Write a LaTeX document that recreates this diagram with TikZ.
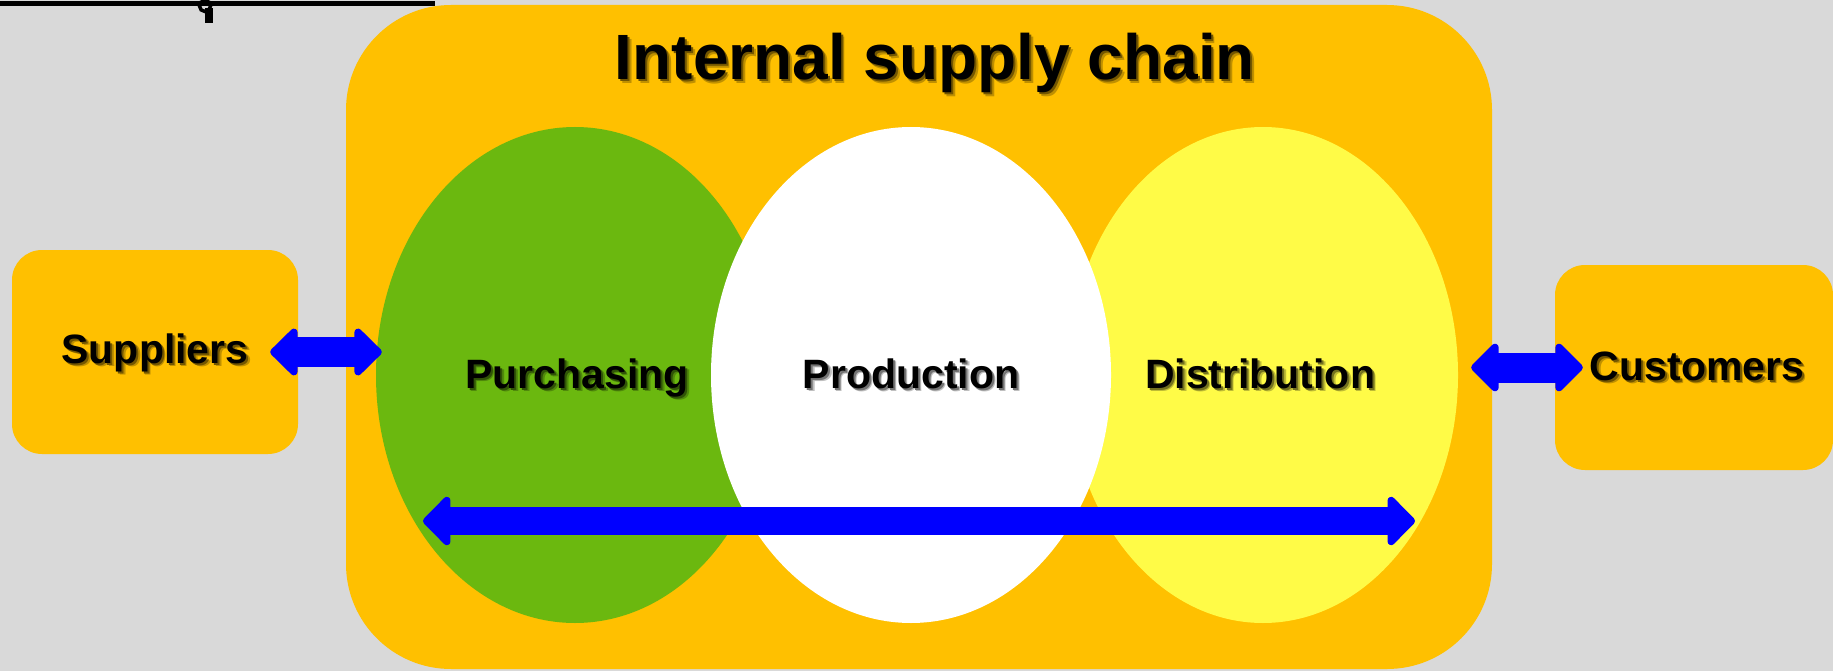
\documentclass[tikz,border=0pt]{standalone}
\usepackage{fontspec}
\setmainfont{Liberation Sans}
\usetikzlibrary{shapes.geometric,arrows.meta,calc}
\definecolor{bgc}{HTML}{D9D9D9}
\definecolor{orng}{HTML}{FFC000}
\definecolor{grn}{HTML}{6BB80F}
\definecolor{ylw}{HTML}{FFFB47}
\definecolor{blu}{HTML}{0000FF}
\newcommand\shtxt[2]{\makebox[0pt][l]{\hspace*{3.5pt}\raisebox{-3.5pt}{\color{#1!75!black}#2}}\makebox[0pt][l]{\hspace*{2pt}\raisebox{-2pt}{\color{#1!45!black}#2}}#2}
\tikzset{
  box/.style={fill=orng, draw=none, rounded corners=30pt, inner sep=0pt},
  oval/.style={ellipse, draw=none, inner sep=0pt, minimum width=398pt, minimum height=496pt},
  lbl/.style={anchor=base, inner sep=0pt, font=\bfseries\fontsize{41}{49}\selectfont},
  bigarr/.style={draw=blu, line width=#1, line cap=butt},
  bigarr/.default=29pt
}
\begin{document}
\begin{tikzpicture}[x=1pt,y=-1pt]
\fill[bgc] (0,0) rectangle (1833,671);
\useasboundingbox (0,0) rectangle (1833,671);
% top-left line fragment
\draw[line width=5pt] (0,4) -- (435,4);
\draw[line width=3.5pt] (205,6) circle (5.5pt);
\fill (205,8) rectangle (213,23);
% boxes
\node[box, rounded corners=105pt, minimum width=1146pt, minimum height=664pt] (isc) at (919,337) {};
\node[box, minimum width=286pt, minimum height=204pt] (sup) at (155,352) {};
\node[box, minimum width=278pt, minimum height=205pt] (cus) at (1694,367.5) {};
% ovals
\node[oval, fill=grn, minimum width=398pt] (pur) at (575,375) {};
\node[oval, fill=ylw, minimum width=390pt] (dis) at (1263,375) {};
\node[oval, fill=white, minimum width=400pt] (pro) at (911,375) {};
% arrows
\draw[bigarr=30pt, arrows={Triangle[round, length=29pt 0 0, width=55pt 0 0]-Triangle[round, length=29pt 0 0, width=55pt 0 0]}]
  ([xshift=-28pt]sup.east) -- ($(pur.west |- sup.east)+(6,0)$);
\draw[bigarr=30pt, arrows={Triangle[round, length=29pt 0 0, width=56pt 0 0]-Triangle[round, length=29pt 0 0, width=56pt 0 0]}]
  ($(dis.east |- cus.west)+(13,0)$) -- ([xshift=28pt]cus.west);
\coordinate (bl) at (423,521);
\coordinate (br) at (1415,521);
\draw[bigarr=28pt, arrows={Triangle[round, length=29pt 0 0, width=57pt 0 0]-Triangle[round, length=29pt 0 0, width=57pt 0 0]}]
  (bl) -- (br);
% texts
\node[anchor=base, inner sep=0pt, font=\bfseries\fontsize{64}{70}\selectfont] (title) at (935,80) {\shtxt{orng}{Internal supply chain}};
\node[lbl] (tsup) at (155,363) {\shtxt{orng}{Suppliers}};
\node[lbl] (tcus) at (1697,380) {\shtxt{orng}{Customers}};
\node[lbl] (tpur) at (577,388) {\shtxt{grn}{Purchasing}};
\node[lbl] (tpro) at (911,388) {\shtxt{white}{Production}};
\node[lbl] (tdis) at (1260,388) {\shtxt{ylw}{Distribution}};
\end{tikzpicture}
\end{document}
